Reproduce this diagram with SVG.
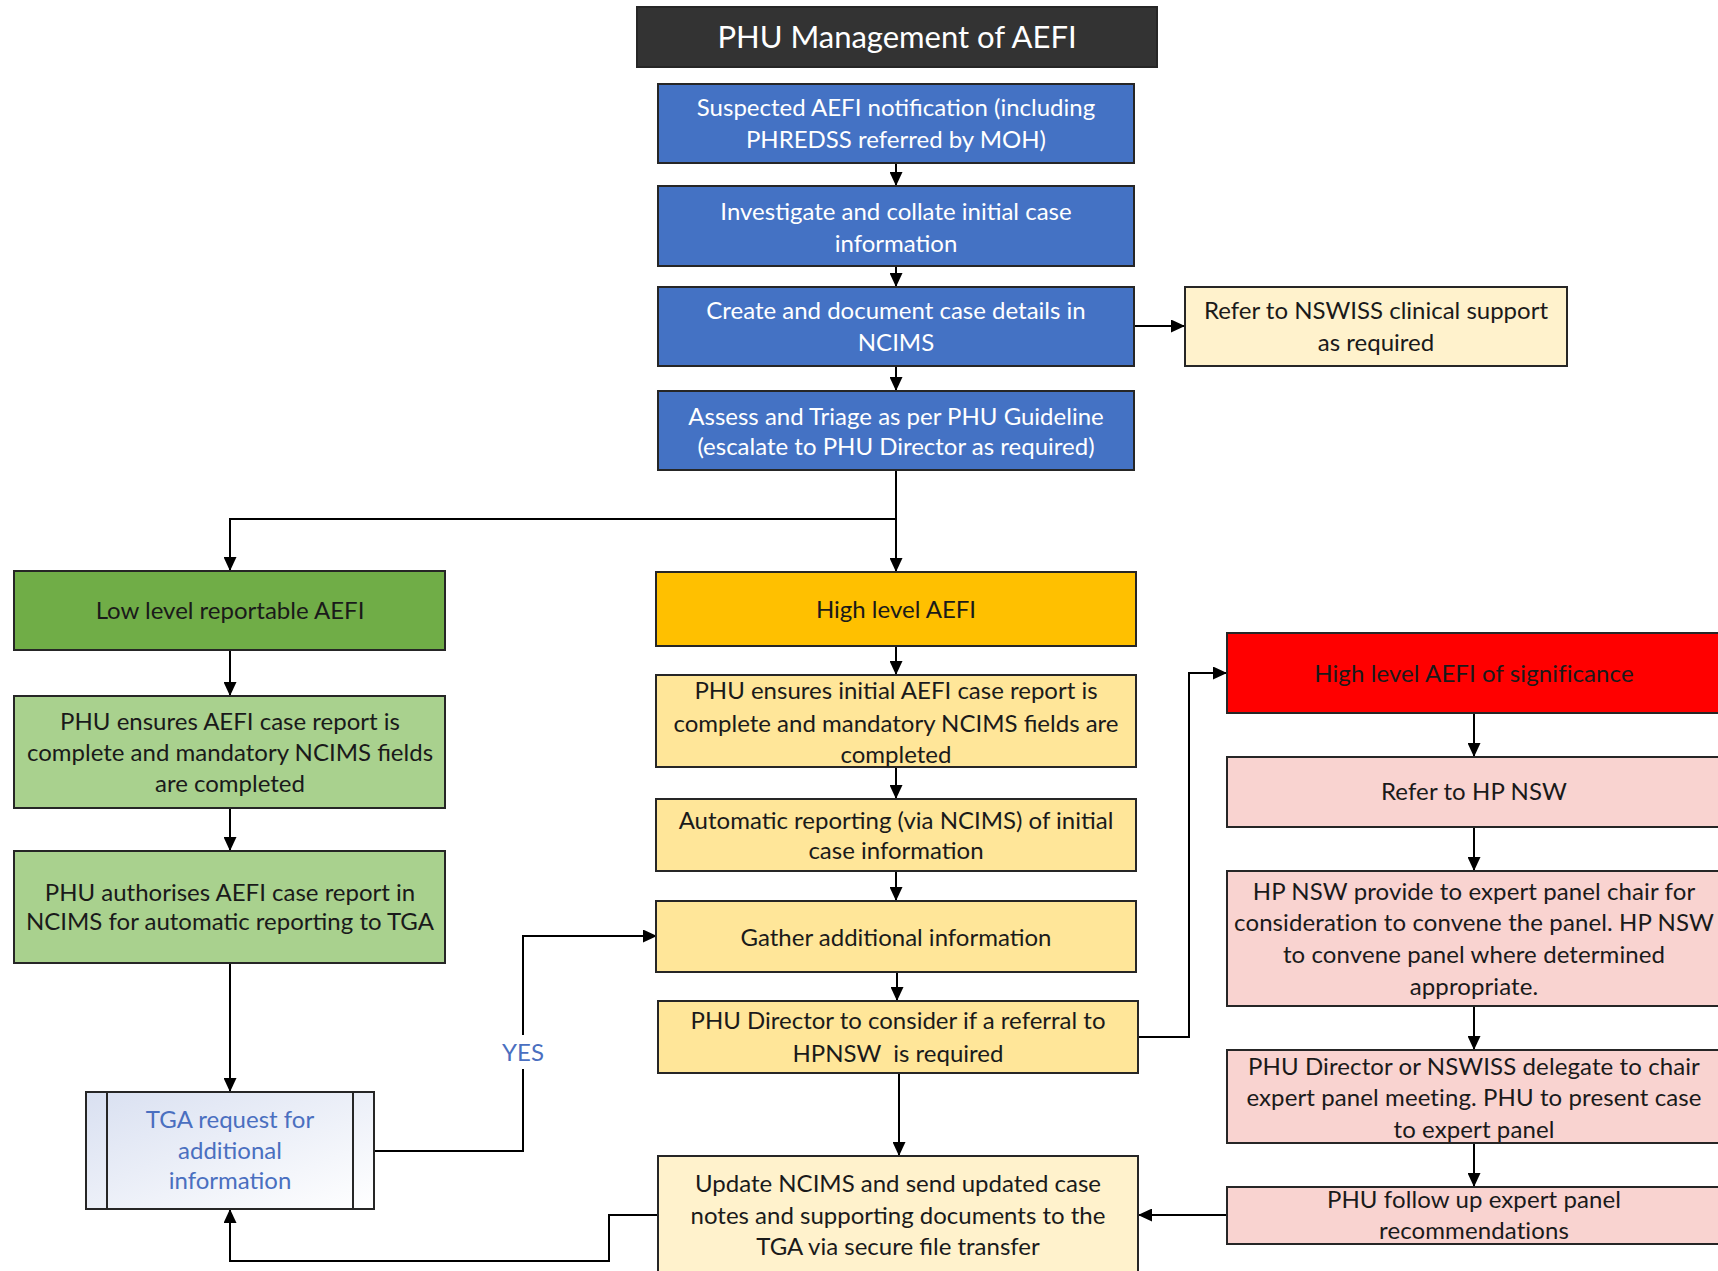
<svg xmlns="http://www.w3.org/2000/svg" width="1718" height="1271" viewBox="0 0 1718 1271">
<style>
.box{stroke:#262626;stroke-width:2}
.t{font-family:Lato,"Liberation Sans",sans-serif;font-size:24px;text-anchor:middle;fill:#1a1a1a}
.w{fill:#ffffff}
.b{fill:#4a6fc0}
.p{letter-spacing:0.1px}
.conn{stroke:#000;stroke-width:2;fill:none}
</style>
<defs>
<marker id="ah" markerUnits="userSpaceOnUse" markerWidth="14" markerHeight="13" refX="14" refY="6.5" orient="auto">
<path d="M0,0 L14,6.5 L0,13 z" fill="#000"/>
</marker>
<linearGradient id="tga" x1="0" y1="0" x2="1" y2="1">
<stop offset="0" stop-color="#d9e0f1"/>
<stop offset="1" stop-color="#ffffff"/>
</linearGradient>
</defs>
<rect width="1718" height="1271" fill="#fff"/>

<g id="connectors">
<line class="conn" x1="896" y1="163" x2="896" y2="186" marker-end="url(#ah)"/>
<line class="conn" x1="896" y1="266" x2="896" y2="287" marker-end="url(#ah)"/>
<line class="conn" x1="896" y1="366" x2="896" y2="391" marker-end="url(#ah)"/>
<line class="conn" x1="1134" y1="326" x2="1185" y2="326" marker-end="url(#ah)"/>
<polyline class="conn" points="896,470 896,519 230,519 230,571" marker-end="url(#ah)"/>
<line class="conn" x1="896" y1="519" x2="896" y2="572" marker-end="url(#ah)"/>
<line class="conn" x1="230" y1="650" x2="230" y2="696" marker-end="url(#ah)"/>
<line class="conn" x1="230" y1="808" x2="230" y2="851" marker-end="url(#ah)"/>
<line class="conn" x1="230" y1="963" x2="230" y2="1092" marker-end="url(#ah)"/>
<line class="conn" x1="896" y1="646" x2="896" y2="675" marker-end="url(#ah)"/>
<line class="conn" x1="896" y1="767" x2="896" y2="799" marker-end="url(#ah)"/>
<line class="conn" x1="896" y1="871" x2="896" y2="901" marker-end="url(#ah)"/>
<line class="conn" x1="897" y1="972" x2="897" y2="1001" marker-end="url(#ah)"/>
<line class="conn" x1="899" y1="1073" x2="899" y2="1156" marker-end="url(#ah)"/>
<polyline class="conn" points="1138,1037 1189,1037 1189,673 1227,673" marker-end="url(#ah)"/>
<polyline class="conn" points="374,1151 523,1151 523,1069"/>
<polyline class="conn" points="523,1035 523,936 657,936" marker-end="url(#ah)"/>
<polyline class="conn" points="658,1215 609,1215 609,1261 230,1261 230,1209" marker-end="url(#ah)"/>
<line class="conn" x1="1474" y1="713" x2="1474" y2="757" marker-end="url(#ah)"/>
<line class="conn" x1="1474" y1="827" x2="1474" y2="871" marker-end="url(#ah)"/>
<line class="conn" x1="1474" y1="1006" x2="1474" y2="1050" marker-end="url(#ah)"/>
<line class="conn" x1="1474" y1="1143" x2="1474" y2="1187" marker-end="url(#ah)"/>
<line class="conn" x1="1227" y1="1215" x2="1138" y2="1215" marker-end="url(#ah)"/>
<text class="t b" x="523" y="1061">YES</text>
</g>

<g id="title">
<rect class="box" x="637" y="7" width="520" height="60" fill="#333333"/>
<text class="t w" x="897" y="48" style="font-size:31px">PHU Management of AEFI</text>
</g>

<g id="n1">
<rect class="box" x="658" y="84" width="476" height="79" fill="#4472c4"/>
<text class="t w" x="896" y="116">Suspected AEFI notification (including</text>
<text class="t w" x="896" y="148">PHREDSS referred by MOH)</text>
</g>
<g id="n2">
<rect class="box" x="658" y="186" width="476" height="80" fill="#4472c4"/>
<text class="t w" x="896" y="220">Investigate and collate initial case</text>
<text class="t w" x="896" y="252">information</text>
</g>
<g id="n3">
<rect class="box" x="658" y="287" width="476" height="79" fill="#4472c4"/>
<text class="t w" x="896" y="319">Create and document case details in</text>
<text class="t w" x="896" y="351">NCIMS</text>
</g>
<g id="n4">
<rect class="box" x="658" y="391" width="476" height="79" fill="#4472c4"/>
<text class="t w" x="896" y="425">Assess and Triage as per PHU Guideline</text>
<text class="t w" x="896" y="455">(escalate to PHU Director as required)</text>
</g>
<g id="nswiss">
<rect class="box" x="1185" y="287" width="382" height="79" fill="#fff2cc"/>
<text class="t" x="1376" y="319">Refer to NSWISS clinical support</text>
<text class="t" x="1376" y="351">as required</text>
</g>

<g id="low">
<rect class="box" x="14" y="571" width="431" height="79" fill="#70ad47"/>
<text class="t" x="230" y="619">Low level reportable AEFI</text>
</g>
<g id="low2">
<rect class="box" x="14" y="696" width="431" height="112" fill="#a9d18e"/>
<text class="t" x="230" y="730">PHU ensures AEFI case report is</text>
<text class="t" x="230" y="761">complete and mandatory NCIMS fields</text>
<text class="t" x="230" y="792">are completed</text>
</g>
<g id="low3">
<rect class="box" x="14" y="851" width="431" height="112" fill="#a9d18e"/>
<text class="t" x="230" y="901">PHU authorises AEFI case report in</text>
<text class="t" x="230" y="930">NCIMS for automatic reporting to TGA</text>
</g>

<g id="tga-req">
<rect class="box" x="86" y="1092" width="288" height="117" fill="url(#tga)"/>
<line class="box" x1="107" y1="1092" x2="107" y2="1209"/>
<line class="box" x1="353" y1="1092" x2="353" y2="1209"/>
<text class="t b" x="230" y="1128">TGA request for</text>
<text class="t b" x="230" y="1159">additional</text>
<text class="t b" x="230" y="1189">information</text>
</g>

<g id="high">
<rect class="box" x="656" y="572" width="480" height="74" fill="#ffc000"/>
<text class="t" x="896" y="618">High level AEFI</text>
</g>
<g id="high2">
<rect class="box" x="656" y="675" width="480" height="92" fill="#ffe699"/>
<text class="t" x="896" y="699">PHU ensures initial AEFI case report is</text>
<text class="t" x="896" y="732">complete and mandatory NCIMS fields are</text>
<text class="t" x="896" y="763">completed</text>
</g>
<g id="high3">
<rect class="box" x="656" y="799" width="480" height="72" fill="#ffe699"/>
<text class="t" x="896" y="829">Automatic reporting (via NCIMS) of initial</text>
<text class="t" x="896" y="859">case information</text>
</g>
<g id="gather">
<rect class="box" x="656" y="901" width="480" height="71" fill="#ffe699"/>
<text class="t" x="896" y="946">Gather additional information</text>
</g>
<g id="director">
<rect class="box" x="658" y="1001" width="480" height="72" fill="#ffe699"/>
<text class="t" x="898" y="1029">PHU Director to consider if a referral to</text>
<text class="t" x="898" y="1062" style="white-space:pre">HPNSW  is required</text>
</g>
<g id="update">
<rect class="box" x="658" y="1156" width="480" height="130" fill="#fff2cc"/>
<text class="t" x="898" y="1192">Update NCIMS and send updated case</text>
<text class="t" x="898" y="1224">notes and supporting documents to the</text>
<text class="t" x="898" y="1255">TGA via secure file transfer</text>
</g>

<g id="sig">
<rect class="box" x="1227" y="633" width="496" height="80" fill="#ff0000"/>
<text class="t p" x="1474" y="682">High level AEFI of significance</text>
</g>
<g id="hpnsw">
<rect class="box" x="1227" y="757" width="496" height="70" fill="#f9d3d0"/>
<text class="t p" x="1474" y="800">Refer to HP NSW</text>
</g>
<g id="panel">
<rect class="box" x="1227" y="871" width="496" height="135" fill="#f9d3d0"/>
<text class="t p" x="1474" y="900">HP NSW provide to expert panel chair for</text>
<text class="t p" x="1474" y="931">consideration to convene the panel. HP NSW</text>
<text class="t p" x="1474" y="963">to convene panel where determined</text>
<text class="t p" x="1474" y="995">appropriate.</text>
</g>
<g id="chair">
<rect class="box" x="1227" y="1050" width="496" height="93" fill="#f9d3d0"/>
<text class="t p" x="1474" y="1075">PHU Director or NSWISS delegate to chair</text>
<text class="t p" x="1474" y="1106">expert panel meeting. PHU to present case</text>
<text class="t p" x="1474" y="1138">to expert panel</text>
</g>
<g id="followup">
<rect class="box" x="1227" y="1187" width="496" height="57" fill="#f9d3d0"/>
<text class="t p" x="1474" y="1208">PHU follow up expert panel</text>
<text class="t p" x="1474" y="1239">recommendations</text>
</g>
</svg>
